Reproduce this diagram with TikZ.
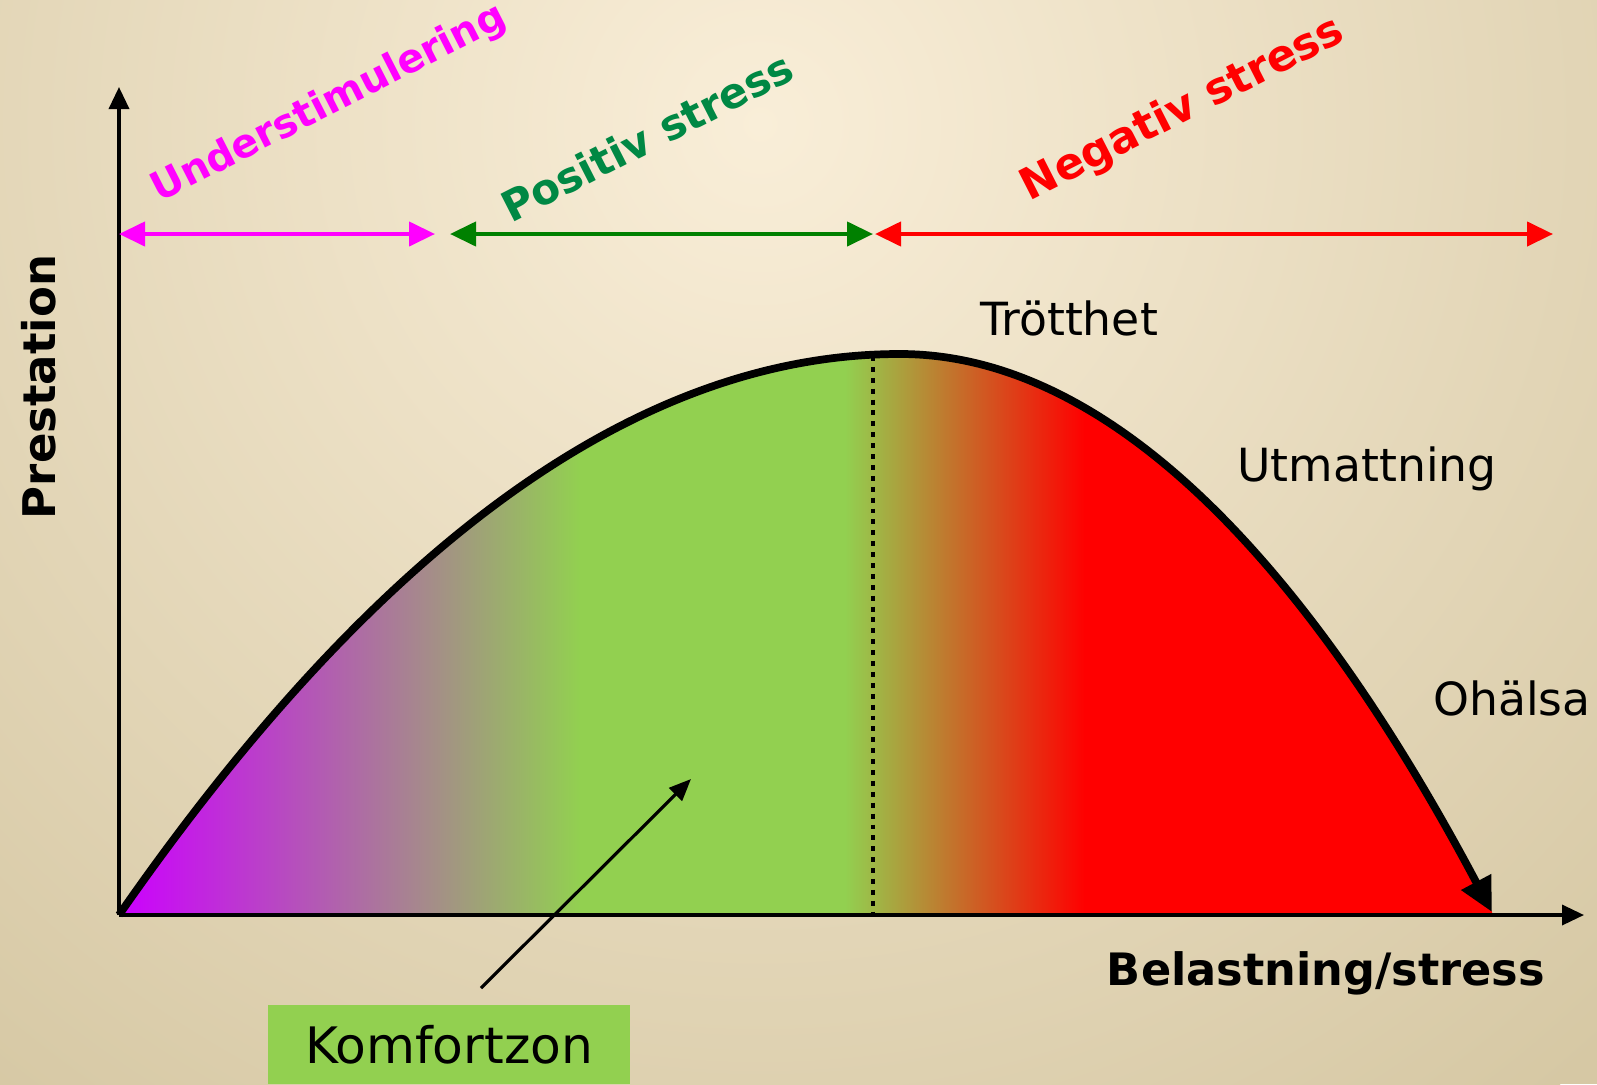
\documentclass[tikz,border=0pt]{standalone}
\usepackage{fontspec}
\setmainfont{DejaVu Sans}
\usepackage{tikz}
\usetikzlibrary{arrows.meta,positioning,calc}
\usepackage{xcolor}
\definecolor{bgin}{RGB}{249,238,216}
\definecolor{bgout}{RGB}{214,200,164}
\definecolor{smag}{RGB}{255,0,255}
\definecolor{svio}{RGB}{204,0,255}
\definecolor{sgreen}{RGB}{146,208,80}
\definecolor{posgreen}{RGB}{0,136,68}
\definecolor{arrgreen}{RGB}{0,128,0}
\definecolor{sred}{RGB}{255,0,0}
\newcommand{\stresscurve}{(o) .. controls (3.793,5.43) and (6.397,7.30) .. (top) .. controls (10.973,7.30) and (12.947,5.44) .. (cend)}

\begin{document}
\begin{tikzpicture}[
    axis_line/.style={line width=1pt, -{Triangle[length=2.2mm, width=2mm]}},
    range_arrow/.style={line width=1.2pt, {Triangle[length=2.6mm, width=2.4mm]}-{Triangle[length=2.6mm, width=2.4mm]}},
    zone_label/.style={font=\bfseries, rotate=27},
    state_label/.style={font=\fontsize{13pt}{15pt}\selectfont}
]
\useasboundingbox (0,0) rectangle (15.97,10.84);

% background
\fill[bgout] (0,0) rectangle (15.97,10.84);
\begin{scope}
  \clip (0,0) rectangle (15.97,10.84);
  \shade[inner color=bgin, outer color=bgout] (7.6,9.6) circle (12.5);
\end{scope}

% axes
\coordinate (o) at (1.19,1.69);
\coordinate (ytop) at (1.19,9.97);
\coordinate (xend) at (15.84,1.69);
\coordinate (top) at (9.0,7.30);
\coordinate (cend) at (14.92,1.72);

% curve area
\begin{scope}
  \clip \stresscurve -- (14.92,1.69) -- cycle;
  \shade[left color=svio, right color=sgreen] (1.19,1.69) rectangle (5.80,7.4);
  \fill[sgreen] (5.79,1.69) rectangle (8.46,7.4);
  \shade[left color=sgreen, right color=sred] (8.45,1.69) rectangle (10.85,7.4);
  \fill[sred] (10.84,1.69) rectangle (15,7.4);
\end{scope}

\draw[axis_line] (o) -- (ytop);
\draw[axis_line] (o) -- (xend);

% comfort zone border
\coordinate (peak) at (8.73,7.28);
\draw[line width=1.4pt, dash pattern=on 1.4pt off 1.7pt] (peak) -- (8.73,1.69);

\draw[line width=2.2pt, -{Triangle[length=3.4mm, width=3.2mm]}] \stresscurve;

% ranges
\coordinate (m1) at (1.19,8.50);
\coordinate (m2) at (4.35,8.50);
\coordinate (g1) at (4.50,8.50);
\coordinate (g2) at (8.73,8.50);
\coordinate (r1) at (8.75,8.50);
\coordinate (r2) at (15.53,8.50);
\draw[range_arrow, smag] (m1) -- (m2);
\draw[range_arrow, arrgreen] (g1) -- (g2);
\draw[range_arrow, sred] (r1) -- (r2);

\node[zone_label, text=smag, font=\fontsize{11.3pt}{13pt}\selectfont\bfseries] (under) at (3.29,9.80) {Understimulering};
\node[zone_label, text=posgreen, font=\fontsize{12pt}{14pt}\selectfont\bfseries] (posit) at (6.47,9.47) {Positiv stress};
\node[zone_label, text=sred, font=\fontsize{12.4pt}{14pt}\selectfont\bfseries] (negat) at (11.83,9.74) {Negativ stress};

% axis titles
\node[font=\fontsize{12.8pt}{14pt}\selectfont\bfseries, rotate=90] (prest) at (0.39,6.97) {Prestation};
\node[font=\fontsize{12.7pt}{14pt}\selectfont\bfseries] (belast) at (13.26,1.11) {Belastning/stress};

% states
\node[state_label] (trott) at (10.69,7.66) {Trötthet};
\node[state_label] (utmatt) at (13.67,6.15) {Utmattning};
\node[state_label] (ohalsa) at (15.12,3.86) {Ohälsa};

% comfort zone box
\node[fill=sgreen, minimum width=3.62cm, minimum height=0.79cm, inner sep=0pt,
      font=\fontsize{14.3pt}{16pt}\selectfont] (komfort) at (4.49,0.395) {Komfortzon};
\coordinate (kstart) at (4.81,0.96);
\coordinate (ktip) at (6.91,3.05);
\draw[line width=0.9pt, -{Triangle[length=2.2mm, width=1.8mm]}] (kstart) -- (ktip);

\end{tikzpicture}
\end{document}
